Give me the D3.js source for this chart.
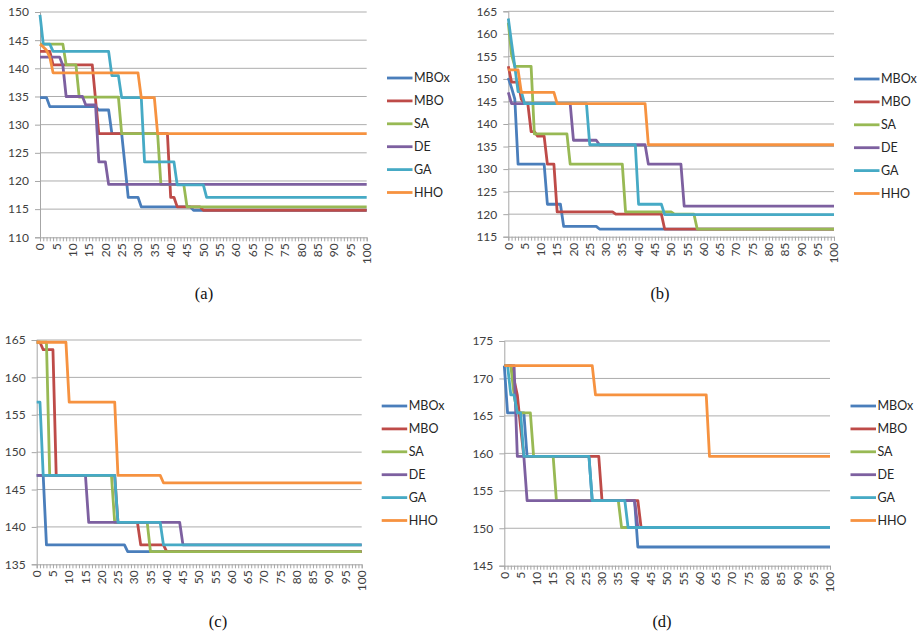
<!DOCTYPE html>
<html>
<head>
<meta charset="utf-8">
<script src="https://cdn.jsdelivr.net/npm/d3@7"></script>
<style>
  html, body { margin: 0; padding: 0; background: #fff; }
  svg { display: block; }
  .tick-label { font-family: Lato, "Open Sans", sans-serif; font-size: 12px; fill: #404040; }
  .legend-label { font-family: Lato, "Open Sans", sans-serif; font-size: 12.5px; fill: #262626; }
  .caption { font-family: "Liberation Serif", "DejaVu Serif", serif; font-size: 16.5px; fill: #111; }
</style>
</head>
<body>
<svg id="chart" width="918" height="636"></svg>
<script>
// Algorithm names, in legend / drawing order
const seriesNames = ["MBOx", "MBO", "SA", "DE", "GA", "HHO"];
const seriesColors = ["#4A7EBB", "#BE4B48", "#98B954", "#7D60A0", "#46AAC5", "#F69240"];
const panelCaptions = ["(a)", "(b)", "(c)", "(d)"];

// Category axis: iterations 0..100, labelled every 5
const iterations = d3.range(0, 101);
const xTickLabels = [0, 5, 10, 15, 20, 25, 30, 35, 40, 45, 50, 55, 60, 65, 70, 75, 80, 85, 90, 95, 100];

// Value axis ticks per panel
const yTicksA = [110, 115, 120, 125, 130, 135, 140, 145, 150];
const yTicksB = [115, 120, 125, 130, 135, 140, 145, 150, 155, 160, 165];
const yTicksC = [135, 140, 145, 150, 155, 160, 165];
const yTicksD = [145, 150, 155, 160, 165, 170, 175];

// Best-so-far cost per run: [iteration where a new value is reached, value]
// Panel (a)
const aMBOx = [[0, 134.8], [3, 133.2], [18, 132.6], [22, 128.4], [26, 122.8], [27, 117.1], [31, 115.4], [47, 114.8]];
const aMBO  = [[0, 143.0], [4, 140.6], [17, 134.5], [18, 128.4], [40, 117.1], [42, 115.4], [50, 114.8]];
const aSA   = [[0, 144.3], [8, 140.6], [12, 134.9], [25, 128.4], [37, 119.4], [45, 115.4]];
const aDE   = [[0, 142.0], [7, 140.5], [8, 135.0], [14, 133.5], [18, 123.4], [21, 119.4]];
const aGA   = [[0, 149.5], [1, 144.3], [4, 143.0], [22, 138.7], [25, 134.8], [32, 123.4], [42, 119.3], [51, 117.1]];
const aHHO  = [[0, 144.3], [1, 143.8], [2, 143.2], [3, 142.0], [4, 139.2], [31, 134.8], [36, 128.4]];
// Panel (b)
const bMBOx = [[0, 150.2], [1, 148.0], [2, 145.5], [3, 131.1], [12, 122.2], [17, 117.3], [28, 116.7]];
const bMBO  = [[0, 152.8], [1, 149.3], [4, 145.5], [5, 144.5], [7, 138.3], [9, 137.3], [12, 131.1], [15, 120.5], [33, 120.0], [48, 116.7]];
const bSA   = [[0, 162.5], [1, 155.4], [2, 152.8], [8, 137.8], [19, 131.1], [36, 120.5], [51, 120.0], [58, 116.7]];
const bDE   = [[0, 147.0], [1, 144.5], [20, 136.4], [28, 135.4], [43, 131.1], [54, 121.8]];
const bGA   = [[0, 163.4], [1, 158.0], [2, 152.7], [3, 147.2], [5, 144.5], [25, 135.4], [40, 122.2], [48, 119.9]];
const bHHO  = [[0, 152.0], [4, 147.0], [15, 144.5], [43, 135.4]];
// Panel (c)
const cMBOx = [[0, 146.9], [3, 137.6], [28, 136.7]];
const cMBO  = [[0, 164.7], [2, 163.7], [6, 146.9], [25, 140.6], [32, 137.6], [40, 136.7]];
const cSA   = [[0, 164.7], [4, 146.9], [24, 140.6], [35, 136.7]];
const cDE   = [[0, 146.9], [16, 140.6], [45, 137.6]];
const cGA   = [[0, 156.7], [2, 146.9], [25, 140.6], [39, 137.6]];
const cHHO  = [[0, 164.7], [10, 156.7], [25, 146.9], [39, 145.9]];
// Panel (d)
const dMBOx = [[0, 171.7], [1, 165.4], [7, 159.6], [27, 153.7], [41, 147.5]];
const dMBO  = [[0, 171.7], [3, 169.8], [4, 167.8], [5, 163.5], [6, 159.6], [30, 153.7], [42, 150.1]];
const dSA   = [[0, 171.7], [3, 167.8], [4, 165.4], [9, 159.6], [16, 153.7], [36, 150.1]];
const dDE   = [[0, 171.7], [4, 159.6], [7, 153.7], [41, 150.1]];
const dGA   = [[0, 171.7], [2, 167.8], [4, 165.4], [6, 159.6], [27, 153.7], [38, 150.1]];
const dHHO  = [[0, 171.7], [28, 167.8], [63, 159.6]];

const runsA = [aMBOx, aMBO, aSA, aDE, aGA, aHHO];
const runsB = [bMBOx, bMBO, bSA, bDE, bGA, bHHO];
const runsC = [cMBOx, cMBO, cSA, cDE, cGA, cHHO];
const runsD = [dMBOx, dMBO, dSA, dDE, dGA, dHHO];

// Layout of the four small charts
const panels = [
  { runs: runsA, ticks: yTicksA, x0: 40,    x1: 366.7, yTop: 12,   yBot: 237.3, legX: 387,   legY: 78,  capX: 204, capY: 299 },
  { runs: runsB, ticks: yTicksB, x0: 508.3, x1: 834,   yTop: 11.3, yBot: 236.7, legX: 854,   legY: 79,  capX: 660, capY: 299 },
  { runs: runsC, ticks: yTicksC, x0: 36.7,  x1: 361.7, yTop: 340,  yBot: 564.3, legX: 381.7, legY: 406, capX: 218, capY: 627 },
  { runs: runsD, ticks: yTicksD, x0: 504.3, x1: 830,   yTop: 341,  yBot: 565.7, legX: 850.5, legY: 406, capX: 662, capY: 627 }
];
panels.forEach((p, k) => { p.caption = panelCaptions[k]; });

// Turn change points into polyline vertices: the value is held until the
// iteration before the next change, then the line drops over one iteration.
function vertices(changes) {
  const pts = [];
  changes.forEach(([it, v], k) => {
    if (k > 0) pts.push([it - 1, changes[k - 1][1]]);
    pts.push([it, v]);
  });
  const last = changes[changes.length - 1];
  pts.push([iterations[iterations.length - 1], last[1]]);
  return pts;
}

const svg = d3.select("#chart");

panels.forEach(p => {
  const x = d3.scaleLinear().domain(d3.extent(iterations)).range([p.x0, p.x1]);
  const y = d3.scaleLinear().domain(d3.extent(p.ticks)).range([p.yBot, p.yTop]);
  const g = svg.append("g");

  // horizontal gridlines
  g.append("g").selectAll("line").data(p.ticks.slice(1)).join("line")
    .attr("x1", p.x0).attr("x2", p.x1)
    .attr("y1", d => y(d)).attr("y2", d => y(d))
    .attr("stroke", "#ADADAD").attr("stroke-width", 1);

  // value axis
  const yAxis = d3.axisLeft(y).tickValues(p.ticks).tickSize(5).tickPadding(6).tickFormat(d3.format("d"));
  const ya = g.append("g").attr("transform", `translate(${p.x0},0)`).call(yAxis);
  ya.select(".domain").attr("stroke", "#A6A6A6").attr("stroke-width", 1);
  ya.selectAll(".tick line").attr("stroke", "#A6A6A6");
  ya.selectAll(".tick text").attr("class", "tick-label").attr("font-family", null).attr("font-size", null);

  // category axis: a tick per iteration, labels every 5 rotated
  const xAxis = d3.axisBottom(x).tickValues(iterations).tickSize(4).tickFormat("");
  const xa = g.append("g").attr("transform", `translate(0,${p.yBot})`).call(xAxis);
  xa.select(".domain").attr("stroke", "#A6A6A6").attr("stroke-width", 1);
  xa.selectAll(".tick line").attr("stroke", "#A6A6A6");
  g.append("g").selectAll("text").data(xTickLabels).join("text")
    .attr("class", "tick-label")
    .attr("transform", d => `translate(${x(d)},${p.yBot + 6}) rotate(-90)`)
    .attr("text-anchor", "end")
    .attr("dy", "0.35em")
    .text(d => d);

  // series lines
  const line = d3.line().x(d => x(d[0])).y(d => y(d[1]));
  g.append("g").selectAll("path").data(p.runs).join("path")
    .attr("d", d => line(vertices(d)))
    .attr("fill", "none")
    .attr("stroke", (d, i) => seriesColors[i])
    .attr("stroke-width", 2.8)
    .attr("stroke-linejoin", "round");

  // legend
  const leg = g.append("g").selectAll("g").data(seriesNames).join("g")
    .attr("transform", (d, i) => `translate(${p.legX},${p.legY + i * 22.9})`);
  leg.append("line").attr("x1", 0).attr("x2", 25.5).attr("y1", 0).attr("y2", 0)
    .attr("stroke", (d, i) => seriesColors[i]).attr("stroke-width", 2.8);
  leg.append("text").attr("class", "legend-label").attr("x", 27).attr("dy", "0.35em").text(d => d);

  // caption
  g.append("text").attr("class", "caption").attr("x", p.capX).attr("y", p.capY)
    .attr("text-anchor", "middle").text(p.caption);
});
</script>
</body>
</html>
